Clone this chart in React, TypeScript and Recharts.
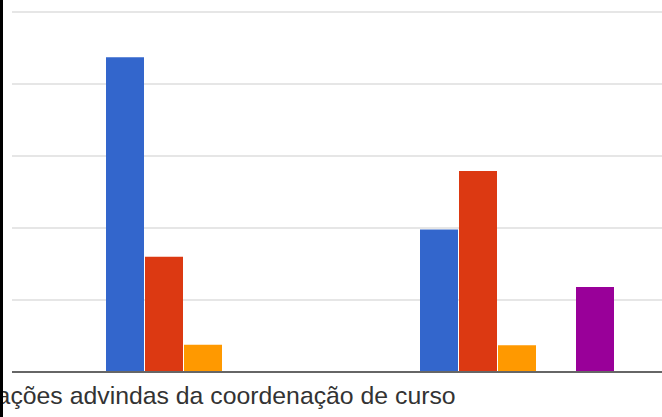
import React from 'react';
import { BarChart, Bar, XAxis, YAxis, CartesianGrid } from 'recharts';

const categories = [
  'Informações advindas da coordenação de curso',
  'Informações advindas dos professores',
];
const seriesNames = ['Série 1', 'Série 2', 'Série 3', 'Série 4', 'Série 5'];
const seriesColors = ['#3366cc', '#dc3912', '#ff9900', '#109618', '#990099'];
const serie1 = [4.37, 1.98];
const serie2 = [1.6, 2.79];
const serie3 = [0.38, 0.37];
const serie4 = [0, 0];
const serie5 = [0, 1.18];
const yTicks = [0, 1, 2, 3, 4, 5];

const seriesValues = [serie1, serie2, serie3, serie4, serie5];
const data = categories.map((c, i) => {
  const row: Record<string, string | number> = { name: c };
  seriesNames.forEach((s, k) => {
    row[s] = seriesValues[k][i];
  });
  return row;
});

const CategoryTick = (props: any) => {
  const { x, y, payload } = props;
  return (
    <text
      x={x}
      y={y}
      dx={-12}
      dy="0.71em"
      textAnchor="middle"
      fill="#333"
      fontSize={24.8}
      fontFamily="Liberation Sans, Arial, sans-serif"
    >
      {payload.value}
    </text>
  );
};

export default function App() {
  return (
    <div
      style={{
        position: 'absolute',
        left: 0,
        top: 0,
        width: 662,
        height: 417,
        overflow: 'hidden',
        background: '#fff',
      }}
    >
      <BarChart
        width={708}
        height={417}
        data={data}
        margin={{ top: 12, right: 0, bottom: 0, left: 12 }}
        barCategoryGap={60}
        barGap={1}
      >
        <CartesianGrid vertical={false} stroke="#e6e6e6" strokeWidth={2} />
        <YAxis hide domain={[0, 5]} ticks={yTicks} />
        <XAxis
          dataKey="name"
          interval={1}
          padding={{ left: 34, right: 34 }}
          height={45}
          tickLine={false}
          tickSize={0}
          tickMargin={14}
          axisLine={{ stroke: '#666', strokeWidth: 2 }}
          tick={<CategoryTick />}
        />
        {seriesNames.map((s, k) => (
          <Bar
            key={s}
            dataKey={s}
            fill={seriesColors[k]}
            isAnimationActive={false}
          />
        ))}
      </BarChart>
      <div
        style={{
          position: 'absolute',
          left: 0,
          top: 0,
          width: 3,
          height: 417,
          background: '#000',
        }}
      />
    </div>
  );
}
